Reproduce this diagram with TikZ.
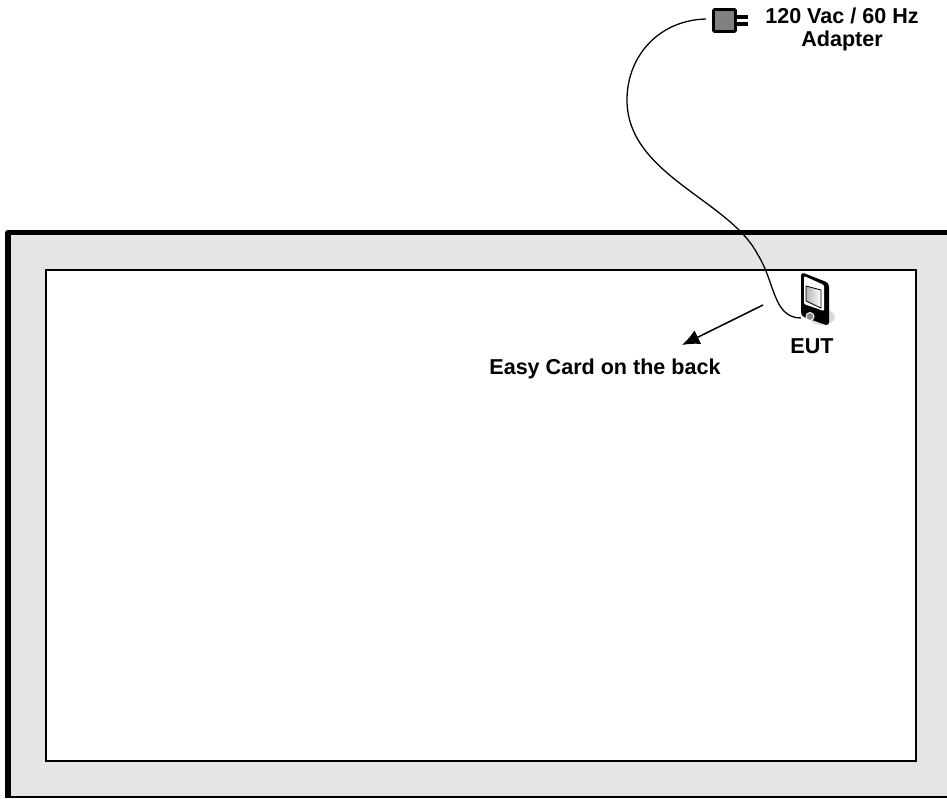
\documentclass[tikz,border=0pt]{standalone}
\usepackage{fontspec}
\setmainfont{Liberation Sans}
\usetikzlibrary{arrows.meta}
\definecolor{framegray}{HTML}{E5E5E5}
\tikzset{
  rotulo/.style={font=\fontsize{18.4}{19.6}\selectfont\bfseries, align=center, inner sep=0pt},
  cabo/.style={line width=1.1pt},
  adaptador/.style={draw=black, fill=black!50, line width=2.4pt, rounded corners=1pt, minimum width=0.66cm, minimum height=0.66cm, inner sep=0pt}
}
\begin{document}
\begin{tikzpicture}[x=0.03cm,y=-0.03cm,>=stealth]
    \useasboundingbox (0,0) rectangle (947,798);
    % Sala
    \fill[framegray] (8,232.5) rectangle (947,797);
    \draw[line width=4.6pt, line join=round] (947,232.5) -- (8,232.5) -- (8,798);
    \draw[line width=1.2pt] (8,797) -- (947,797);
    \node[draw=black, fill=white, line width=1.2pt, minimum width=26.1cm, minimum height=14.73cm, inner sep=0pt] (campo) at (481,515.5) {};

    % Adaptador
    \node[adaptador] (fonte) at (724.5,20.5) {};
    \foreach \y in {17,24} {
        \draw[line width=2.6pt] (737,\y) -- (748,\y);
    }
    \coordinate (saida) at (706,19);
    \node[rotulo] (rotfonte) at (842,29) {120 Vac / 60 Hz\\Adapter};

    % EUT
    \fill[black!15] (822,317) ellipse (13 and 8);
    \fill[black, rounded corners=3pt] (801,272) -- (829,283) -- (829,326) -- (801,316) -- cycle;
    \fill[white, rounded corners=1pt] (804,276) -- (824,285) -- (824,311) -- (804,304) -- cycle;
    \shade[left color=black!30, right color=white, draw=black, line width=0.7pt] (806,286) -- (821,290) -- (821,308) -- (806,301) -- cycle;
    \node[draw=white, fill=black!45, circle, line width=0.8pt, minimum size=0.24cm, inner sep=0pt] (eut) at (810,316.5) {};
    \node[rotulo] (roteut) at (812,346) {EUT};

    % Cabo
    \coordinate (entrada) at (801,318);
    \draw[cabo] (saida) .. controls (660,20) and (627,55) .. (627,100)
        .. controls (627,175) and (730,200) .. (758,255)
        .. controls (775,282) and (773,318) .. (entrada);

    % Cartao
    \node[rotulo] (rotcartao) at (605,369) {Easy Card on the back};
    \coordinate (ini) at (763,305);
    \coordinate (fim) at (682,345);
    \draw[-{Latex[length=15pt,width=13pt]}, line width=1.3pt] (ini) -- (fim);
\end{tikzpicture}
\end{document}
